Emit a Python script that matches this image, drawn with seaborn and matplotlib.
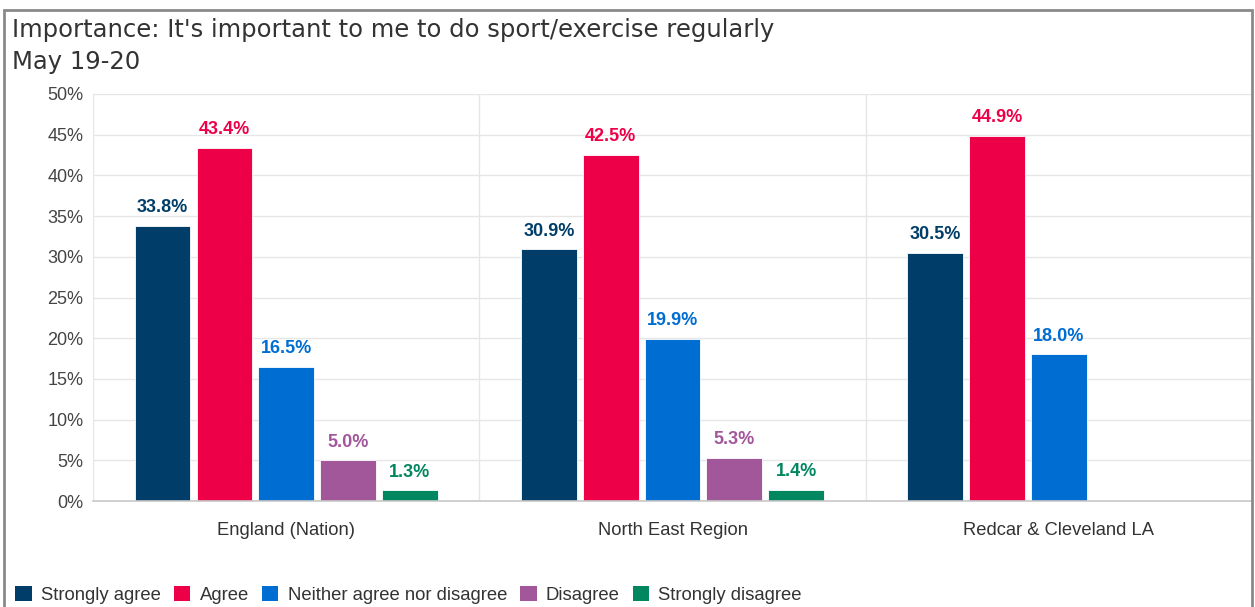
import numpy as np
import pandas as pd
import seaborn as sns
import matplotlib
matplotlib.use("Agg")
import matplotlib.pyplot as plt
from matplotlib.patches import Rectangle
from matplotlib.ticker import FuncFormatter, FixedLocator

# Survey responses (% of adults), May 19-20
areas = ["England (Nation)", "North East Region", "Redcar & Cleveland LA"]
responses = ["Strongly agree", "Agree", "Neither agree nor disagree",
             "Disagree", "Strongly disagree"]
strongly_agree = [33.8, 30.9, 30.5]
agree = [43.4, 42.5, 44.9]
neither = [16.5, 19.9, 18.0]
disagree = [5.0, 5.3, np.nan]
strongly_disagree = [1.3, 1.4, np.nan]
y_ticks = [0, 5, 10, 15, 20, 25, 30, 35, 40, 45, 50]

colors = ["#003D68", "#EE0049", "#006DD2", "#A1579A", "#00875F"]

series = [strongly_agree, agree, neither, disagree, strongly_disagree]
df = pd.DataFrame(
    [(a, r, s[i]) for r, s in zip(responses, series) for i, a in enumerate(areas)],
    columns=["area", "response", "pct"],
)

sns.set_theme(style="white")
plt.rcParams["font.family"] = ["Liberation Sans", "DejaVu Sans"]

fig = plt.figure(figsize=(12.55, 6.07), dpi=100)
ax = fig.add_axes([93 / 1255, 1 - 501 / 607, (1252 - 93) / 1255, (501 - 94) / 607])

sns.barplot(data=df, x="area", y="pct", hue="response", order=areas,
            hue_order=responses, palette=colors, saturation=1, width=0.8, gap=0.1,
            edgecolor="white", linewidth=0.6, legend=False, ax=ax)

# value labels above each bar
for container, col in zip(ax.containers, colors):
    for bar in container:
        h = bar.get_height()
        if not np.isfinite(h) or h <= 0:
            continue
        ax.annotate(f"{h:.1f}%", (bar.get_x() + bar.get_width() / 2, h),
                    xytext=(0, 7), textcoords="offset points",
                    ha="center", va="bottom", fontsize=13,
                    fontweight="bold", color=col)

ax.set_xlim(-0.5, 2.5)
ax.set_ylim(0, 50)
ax.set_yticks(y_ticks)
ax.yaxis.set_major_formatter(FuncFormatter(lambda v, _: f"{v:.0f}%"))
ax.set_xlabel("")
ax.set_ylabel("")

# horizontal grid and vertical group separators
ax.grid(axis="y", color="#E6E6E6", linewidth=1)
ax.xaxis.set_minor_locator(FixedLocator([-0.5, 0.5, 1.5, 2.5]))
ax.grid(axis="x", which="minor", color="#E6E6E6", linewidth=1)
ax.grid(axis="x", which="major", visible=False)
ax.set_axisbelow(True)
ax.tick_params(axis="x", which="minor", length=9, color="#E0E0E0", width=1, direction="out")
ax.tick_params(axis="x", which="major", length=0, pad=15, labelsize=13.2, labelcolor="#333333")
ax.tick_params(axis="y", length=5, color="#D0D0D0", width=1, direction="out",
               pad=2, labelsize=13, labelcolor="#444444")

for side in ["top", "right", "left"]:
    ax.spines[side].set_visible(False)
ax.spines["bottom"].set_color("#C8C8C8")
ax.spines["bottom"].set_linewidth(1.2)

# titles
title_font = ["DejaVu Sans"]
fig.text(12 / 1255, 1 - 30 / 607, "Importance: It's important to me to do sport/exercise regularly",
         fontsize=17.5, color="#333333", va="center", ha="left", family=title_font)
fig.text(12 / 1255, 1 - 62 / 607, "May 19-20",
         fontsize=17.5, color="#333333", va="center", ha="left", family=title_font)

# legend along the bottom edge
handles = [Rectangle((0, 0), 1, 1, facecolor=c, edgecolor="none") for c in colors]
fig.legend(handles, responses, loc="center left", ncol=5,
           bbox_to_anchor=(15 / 1255, 1 - 595 / 607), frameon=False,
           fontsize=13.3, labelcolor="#333333", handlelength=0.9, handleheight=0.9,
           handletextpad=0.5, columnspacing=0.7, borderaxespad=0, borderpad=0)

# outer frame
fig.patches.append(Rectangle((4 / 1255, -0.2), (1252 - 4) / 1255, 1.2 - 10 / 607,
                             transform=fig.transFigure, fill=False,
                             edgecolor="#8A8A8A", linewidth=2))

fig.savefig("out.png", dpi=100)
